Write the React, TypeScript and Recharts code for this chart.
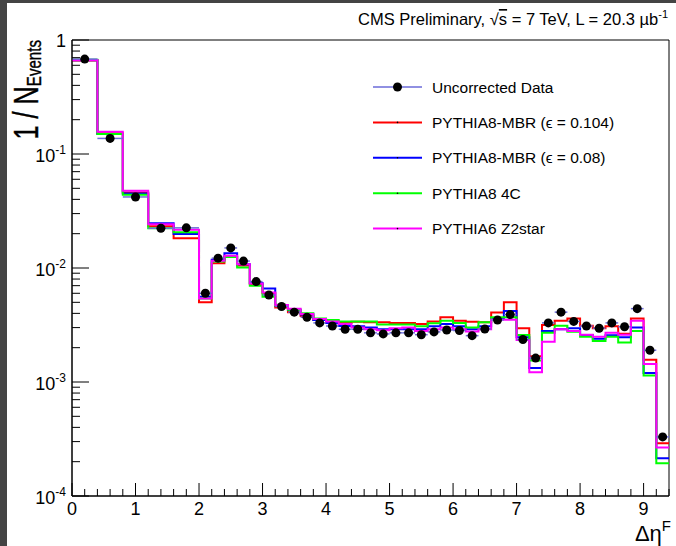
import React from 'react';
import { ComposedChart, Line, Scatter, XAxis, YAxis, ErrorBar, ReferenceArea, Legend } from 'recharts';

// Bin edges in Δη^F
const binEdges = [0, 0.4, 0.8, 1.2, 1.6, 2.0, 2.2, 2.4, 2.6, 2.8, 3.0, 3.2, 3.4, 3.6, 3.8, 4.0, 4.2, 4.4, 4.6, 4.8, 5.0, 5.2, 5.4, 5.6, 5.8, 6.0, 6.2, 6.4, 6.6, 6.8, 7.0, 7.2, 7.4, 7.6, 7.8, 8.0, 8.2, 8.4, 8.6, 8.8, 9.0, 9.2, 9.4];

const uncorrectedData = [0.68, 0.137, 0.042, 0.0223, 0.0225, 0.0060, 0.0122, 0.0150, 0.0115, 0.0076, 0.0058, 0.0046, 0.0041, 0.0037, 0.0033, 0.0031, 0.0029, 0.0029, 0.0027, 0.00264, 0.0027, 0.0027, 0.0026, 0.00275, 0.00286, 0.00283, 0.00255, 0.00292, 0.0035, 0.0039, 0.00236, 0.00162, 0.0033, 0.0041, 0.0034, 0.0031, 0.00296, 0.0033, 0.00305, 0.0044, 0.0019, 0.00033];
const pythia8Mbr0104 = [0.66, 0.152, 0.046, 0.0232, 0.0182, 0.0050, 0.0110, 0.0125, 0.0105, 0.0072, 0.0060, 0.0045, 0.0041, 0.0038, 0.0035, 0.0034, 0.0033, 0.00338, 0.00334, 0.00334, 0.0033, 0.0033, 0.00323, 0.0034, 0.0037, 0.00345, 0.00338, 0.00334, 0.00408, 0.0050, 0.00296, 0.00168, 0.00316, 0.00345, 0.0036, 0.00312, 0.00296, 0.00308, 0.00265, 0.0036, 0.00157, 0.00029];
const pythia8Mbr008 = [0.665, 0.150, 0.045, 0.0247, 0.0199, 0.0056, 0.0118, 0.0135, 0.0108, 0.0074, 0.0066, 0.0047, 0.0043, 0.0039, 0.0035, 0.0033, 0.0031, 0.00308, 0.0030, 0.0029, 0.0029, 0.0029, 0.0029, 0.00308, 0.00323, 0.00308, 0.0029, 0.00308, 0.0036, 0.0042, 0.00247, 0.00133, 0.0028, 0.0029, 0.00296, 0.00258, 0.00239, 0.00257, 0.00247, 0.0030, 0.0012, 0.000214];
const pythia84C = [0.67, 0.150, 0.0438, 0.0223, 0.0206, 0.0054, 0.0114, 0.0125, 0.0101, 0.0070, 0.0056, 0.0047, 0.0043, 0.0040, 0.0036, 0.0035, 0.0034, 0.0034, 0.0034, 0.0032, 0.0032, 0.0032, 0.00308, 0.00328, 0.00345, 0.0033, 0.0030, 0.00334, 0.0037, 0.0037, 0.00258, 0.00154, 0.0027, 0.00312, 0.00276, 0.0025, 0.00229, 0.0025, 0.00222, 0.0028, 0.00114, 0.000194];
const pythia6Z2star = [0.668, 0.157, 0.0477, 0.0242, 0.0216, 0.0054, 0.0116, 0.0128, 0.0108, 0.0073, 0.0061, 0.00473, 0.0044, 0.00395, 0.00357, 0.0034, 0.00323, 0.0030, 0.0029, 0.00285, 0.00296, 0.0030, 0.0028, 0.0029, 0.0030, 0.0029, 0.00278, 0.0029, 0.00352, 0.00352, 0.00234, 0.00122, 0.00226, 0.0029, 0.0028, 0.0026, 0.0025, 0.0027, 0.0026, 0.00345, 0.00144, 0.000267];

const seriesLabels = ['Uncorrected Data', 'PYTHIA8-MBR (\u03F5 = 0.104)', 'PYTHIA8-MBR (\u03F5 = 0.08)', 'PYTHIA8 4C', 'PYTHIA6 Z2star'];
const seriesColors = ['#6b6bd8', '#ff0000', '#0000ff', '#00ff00', '#ff00ff'];

const xTickLabels = ['0', '1', '2', '3', '4', '5', '6', '7', '8', '9'];
const yMajorTicks = [1e-4, 1e-3, 1e-2, 1e-1, 1];
const yTickExponents = ['-4', '-3', '-2', '-1', ''];
const yMinorMultipliers = [2, 3, 4, 5, 6, 7, 8, 9];

const xTicks: number[] = [];
for (let i = 0; i <= 47; i++) xTicks.push(Math.round(i * 2) / 10);
const yTicks: number[] = [...yMajorTicks];
for (let d = -4; d <= -1; d++) for (const k of yMinorMultipliers) yTicks.push(k * Math.pow(10, d));

const toSteps = (vals: number[]) => binEdges.map((x, i) => ({ x, y: vals[Math.min(i, vals.length - 1)] }));
const dataPoints = uncorrectedData.map((y, i) => ({
  x: (binEdges[i] + binEdges[i + 1]) / 2,
  y,
  xerr: (binEdges[i + 1] - binEdges[i]) / 2,
}));
const histSeries = [
  { vals: pythia8Mbr0104, color: seriesColors[1] },
  { vals: pythia8Mbr008, color: seriesColors[2] },
  { vals: pythia84C, color: seriesColors[3] },
  { vals: pythia6Z2star, color: seriesColors[4] },
];

const XTick = (props: any) => {
  const { x, y, payload } = props;
  const v = payload.value;
  const major = Math.abs(v - Math.round(v)) < 1e-6;
  return (
    <g>
      <line x1={x} y1={y} x2={x} y2={y - (major ? 13 : 7)} stroke="#000" strokeWidth={1} />
      {major && (
        <text x={x} y={y + 19} textAnchor="middle" fontSize={18} fill="#000">{xTickLabels[Math.round(v)]}</text>
      )}
    </g>
  );
};

const YTick = (props: any) => {
  const { x, y, payload } = props;
  const v = payload.value;
  const mi = yMajorTicks.findIndex((m) => Math.abs(m - v) / m < 1e-6);
  const major = mi >= 0;
  return (
    <g>
      <line x1={x} y1={y} x2={x + (major ? 17 : 8)} y2={y} stroke="#000" strokeWidth={1} />
      {major && (yTickExponents[mi] === '' ? (
        <text x={x - 6} y={y + 7} textAnchor="end" fontSize={18} fill="#000">1</text>
      ) : (
        <text x={x - 6} y={y + 8} textAnchor="end" fontSize={18} fill="#000">
          10<tspan dy={-8} fontSize={12}>{yTickExponents[mi]}</tspan>
        </text>
      ))}
    </g>
  );
};

const renderLegend = () => (
  <svg width={310} height={180}>
    {seriesLabels.map((label, i) => {
      const cy = 17 + i * 35.4;
      return (
        <g key={label}>
          <line x1={13} y1={cy} x2={62} y2={cy} stroke={seriesColors[i]} strokeWidth={i === 0 ? 1.5 : 2} />
          {i === 0 ? <circle cx={37.5} cy={cy} r={4.5} fill="#000" /> : <circle cx={37.5} cy={cy} r={0.8} fill="#000" />}
          <text x={72} y={cy + 5.5} fontSize={15.5} fill="#000">{label}</text>
        </g>
      );
    })}
  </svg>
);

const DataDot = (props: any) => {
  const { cx, cy } = props;
  if (cx == null || cy == null) return null;
  return <circle cx={cx} cy={cy} r={4.5} fill="#000" />;
};

export default function App() {
  return (
    <div style={{ position: 'absolute', left: 0, top: 0, width: 676, height: 546, background: '#fff', fontFamily: '"Liberation Sans", Arial, Helvetica, sans-serif', overflow: 'hidden' }}>
      <div style={{ position: 'absolute', left: 0, top: 0, width: 7, height: 546, background: '#444' }} />
      <div style={{ position: 'absolute', left: 0, top: 0, width: 676, height: 3, background: '#444' }} />
      <div style={{ position: 'absolute', left: 0, top: 0 }}>
        <ComposedChart width={676} height={546} margin={{ top: 40, right: 7, bottom: 20, left: 12 }}>
          <XAxis
            dataKey="x"
            type="number"
            domain={[0, 9.4]}
            ticks={xTicks}
            interval={0}
            tick={<XTick />}
            tickLine={false}
            tickSize={0}
            tickMargin={0}
            height={30}
            axisLine={{ stroke: '#000' }}
            allowDataOverflow
          />
          <YAxis
            dataKey="y"
            type="number"
            scale="log"
            domain={[1e-4, 1]}
            ticks={yTicks}
            interval={0}
            tick={<YTick />}
            tickLine={false}
            tickSize={0}
            tickMargin={0}
            width={60}
            axisLine={{ stroke: '#000' }}
            allowDataOverflow
          />
          <ReferenceArea x1={0} x2={9.4} y1={1e-4} y2={1} fill="none" stroke="#000" strokeWidth={1} />
          {histSeries.map((s, i) => (
            <Line
              key={i}
              data={toSteps(s.vals)}
              dataKey="y"
              type="stepAfter"
              stroke={s.color}
              strokeWidth={2}
              dot={false}
              activeDot={false}
              isAnimationActive={false}
              legendType="none"
            />
          ))}
          <Scatter data={dataPoints} dataKey="y" fill="#000" shape={<DataDot />} isAnimationActive={false} legendType="none">
            <ErrorBar dataKey="xerr" direction="x" width={0} stroke={seriesColors[0]} strokeWidth={1.5} />
          </Scatter>
          <Legend
            layout="vertical"
            align="center"
            verticalAlign="middle"
            content={renderLegend}
            wrapperStyle={{ left: 360, top: 70, width: 310, height: 180 }}
          />
        </ComposedChart>
      </div>
      <svg width={676} height={546} style={{ position: 'absolute', left: 0, top: 0, pointerEvents: 'none' }}>
        <text x={668} y={25} textAnchor="end" fontSize={16.5} fill="#000">
          CMS Preliminary, {'\u221A'}<tspan style={{ textDecoration: 'overline' }}>s</tspan> = 7 TeV, L = 20.3 {'\u00B5'}b<tspan dy={-7} fontSize={11}>-1</tspan>
        </text>
        <text transform="translate(38,40) rotate(-90) scale(0.72,1)" textAnchor="end" fontSize={35} fill="#000" stroke="#000" strokeWidth={0.4}>
          1 / N<tspan dy={3} fontSize={21}>Events</tspan>
        </text>
        <text x={671} y={541} textAnchor="end" fontSize={22} fill="#000">
          {'\u0394\u03B7'}<tspan dy={-10} fontSize={15}>F</tspan>
        </text>
      </svg>
    </div>
  );
}
